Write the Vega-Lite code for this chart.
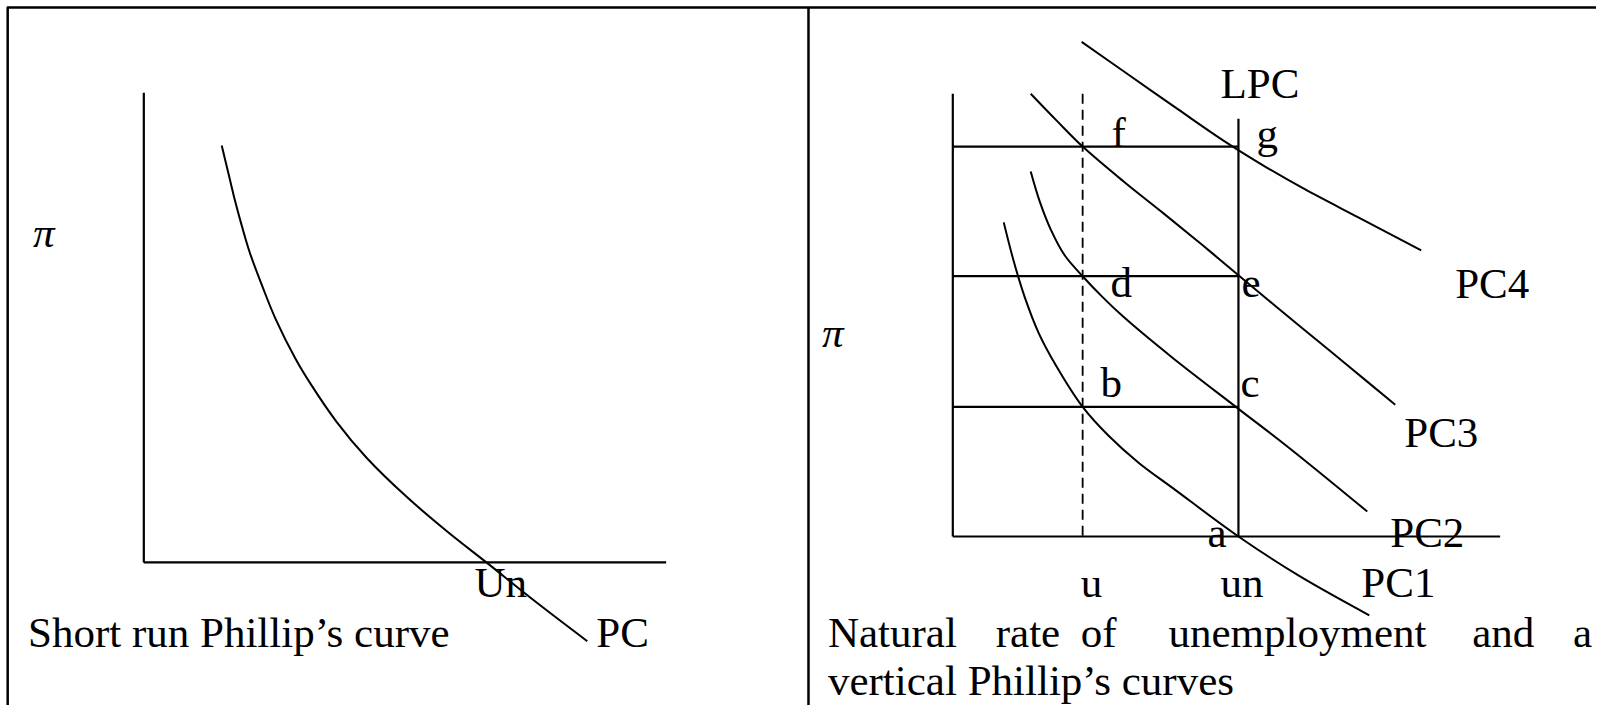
{
  "$schema": "https://vega.github.io/schema/vega-lite/v6.json",
  "width": 1598,
  "height": 707,
  "padding": 0,
  "autosize": {"type": "fit", "contains": "padding"},
  "background": "white",
  "config": {"view": {"stroke": null}},
  "datasets": {
    "border": [
      {"x": 7, "y": 7.5, "x2": 1598, "y2": 7.5},
      {"x": 7.7, "y": 7, "x2": 7.7, "y2": 707},
      {"x": 809.5, "y": 7, "x2": 809.5, "y2": 707}
    ],
    "axes": [
      {"x": 144, "y": 93, "x2": 144, "y2": 564},
      {"x": 144, "y": 564, "x2": 667, "y2": 564},
      {"x": 954, "y": 94, "x2": 954, "y2": 538},
      {"x": 954, "y": 538, "x2": 1502, "y2": 538},
      {"x": 1240, "y": 119, "x2": 1240, "y2": 538},
      {"x": 954, "y": 147, "x2": 1240, "y2": 147},
      {"x": 954, "y": 277, "x2": 1240, "y2": 277},
      {"x": 954, "y": 408, "x2": 1240, "y2": 408}
    ],
    "dashed": [
      {"x": 1084, "y": 94, "x2": 1084, "y2": 538}
    ],
    "curves": [
      {"c": "PC", "x": 222, "y": 146}, {"c": "PC", "x": 229, "y": 175}, {"c": "PC", "x": 235, "y": 200},
      {"c": "PC", "x": 242, "y": 226}, {"c": "PC", "x": 250, "y": 253}, {"c": "PC", "x": 263, "y": 288},
      {"c": "PC", "x": 276, "y": 320}, {"c": "PC", "x": 296, "y": 360}, {"c": "PC", "x": 311, "y": 385},
      {"c": "PC", "x": 337, "y": 423}, {"c": "PC", "x": 367, "y": 459}, {"c": "PC", "x": 408, "y": 499},
      {"c": "PC", "x": 449, "y": 534}, {"c": "PC", "x": 487, "y": 564}, {"c": "PC", "x": 537, "y": 604},
      {"c": "PC", "x": 588, "y": 643},
      {"c": "PC4", "x": 1083, "y": 42}, {"c": "PC4", "x": 1130, "y": 75}, {"c": "PC4", "x": 1180, "y": 110},
      {"c": "PC4", "x": 1225, "y": 141}, {"c": "PC4", "x": 1265, "y": 166}, {"c": "PC4", "x": 1305, "y": 189},
      {"c": "PC4", "x": 1360, "y": 218}, {"c": "PC4", "x": 1423, "y": 251},
      {"c": "PC3", "x": 1032, "y": 94}, {"c": "PC3", "x": 1058, "y": 121}, {"c": "PC3", "x": 1084, "y": 147},
      {"c": "PC3", "x": 1125, "y": 182}, {"c": "PC3", "x": 1165, "y": 214}, {"c": "PC3", "x": 1203, "y": 245},
      {"c": "PC3", "x": 1240, "y": 276}, {"c": "PC3", "x": 1270, "y": 301}, {"c": "PC3", "x": 1300, "y": 326},
      {"c": "PC3", "x": 1350, "y": 367}, {"c": "PC3", "x": 1397, "y": 406},
      {"c": "PC2", "x": 1032, "y": 172}, {"c": "PC2", "x": 1041, "y": 202}, {"c": "PC2", "x": 1052, "y": 230},
      {"c": "PC2", "x": 1066, "y": 256}, {"c": "PC2", "x": 1084, "y": 277}, {"c": "PC2", "x": 1104, "y": 298},
      {"c": "PC2", "x": 1124, "y": 317}, {"c": "PC2", "x": 1173, "y": 358}, {"c": "PC2", "x": 1240, "y": 410},
      {"c": "PC2", "x": 1288, "y": 447}, {"c": "PC2", "x": 1369, "y": 513},
      {"c": "PC1", "x": 1005, "y": 223}, {"c": "PC1", "x": 1015, "y": 262}, {"c": "PC1", "x": 1026, "y": 298},
      {"c": "PC1", "x": 1040, "y": 334}, {"c": "PC1", "x": 1057, "y": 366}, {"c": "PC1", "x": 1084, "y": 408},
      {"c": "PC1", "x": 1110, "y": 437}, {"c": "PC1", "x": 1140, "y": 464}, {"c": "PC1", "x": 1175, "y": 490},
      {"c": "PC1", "x": 1240, "y": 538}, {"c": "PC1", "x": 1300, "y": 577}, {"c": "PC1", "x": 1371, "y": 617}
    ],
    "labels": [
      {"t": "Un", "x": 475, "y": 599},
      {"t": "PC", "x": 597, "y": 649},
      {"t": "Short run Phillip’s curve", "x": 28, "y": 649},
      {"t": "LPC", "x": 1222, "y": 98},
      {"t": "f", "x": 1113, "y": 147},
      {"t": "g", "x": 1258, "y": 148},
      {"t": "d", "x": 1112, "y": 298},
      {"t": "e", "x": 1243, "y": 298},
      {"t": "PC4", "x": 1457, "y": 299},
      {"t": "b", "x": 1102, "y": 398},
      {"t": "c", "x": 1242, "y": 398},
      {"t": "PC3", "x": 1406, "y": 448},
      {"t": "a", "x": 1209, "y": 549},
      {"t": "PC2", "x": 1392, "y": 549},
      {"t": "u", "x": 1082, "y": 599},
      {"t": "un", "x": 1222, "y": 599},
      {"t": "PC1", "x": 1363, "y": 599},
      {"t": "Natural", "x": 829, "y": 649},
      {"t": "rate", "x": 997, "y": 649},
      {"t": "of", "x": 1082, "y": 649},
      {"t": "unemployment", "x": 1170, "y": 649},
      {"t": "and", "x": 1474, "y": 649},
      {"t": "a", "x": 1575, "y": 649},
      {"t": "vertical Phillip’s curves", "x": 829, "y": 697}
    ],
    "pi": [
      {"t": "π", "x": 33, "y": 248},
      {"t": "π", "x": 823, "y": 348}
    ]
  },
  "encoding": {
    "x": {"field": "x", "type": "quantitative", "axis": null, "scale": {"domain": [0, 1598], "nice": false, "zero": false}},
    "y": {"field": "y", "type": "quantitative", "axis": null, "scale": {"domain": [0, 707], "nice": false, "zero": false, "reverse": true}}
  },
  "layer": [
    {
      "data": {"name": "border"},
      "mark": {"type": "rule", "color": "black", "strokeWidth": 2.5},
      "encoding": {"x2": {"field": "x2"}, "y2": {"field": "y2"}}
    },
    {
      "data": {"name": "axes"},
      "mark": {"type": "rule", "color": "black", "strokeWidth": 2.2},
      "encoding": {"x2": {"field": "x2"}, "y2": {"field": "y2"}}
    },
    {
      "data": {"name": "dashed"},
      "mark": {"type": "rule", "color": "black", "strokeWidth": 1.8, "strokeDash": [10, 6]},
      "encoding": {"x2": {"field": "x2"}, "y2": {"field": "y2"}}
    },
    {
      "data": {"name": "curves"},
      "mark": {"type": "line", "color": "black", "strokeWidth": 2, "interpolate": "catmull-rom"},
      "encoding": {"detail": {"field": "c", "type": "nominal"}}
    },
    {
      "data": {"name": "labels"},
      "mark": {"type": "text", "font": "Liberation Serif", "fontSize": 43, "align": "left", "baseline": "alphabetic", "color": "black"},
      "encoding": {"text": {"field": "t", "type": "nominal"}}
    },
    {
      "data": {"name": "pi"},
      "mark": {"type": "text", "font": "Liberation Serif", "fontSize": 43, "fontStyle": "italic", "align": "left", "baseline": "alphabetic", "color": "black"},
      "encoding": {"text": {"field": "t", "type": "nominal"}}
    }
  ]
}
